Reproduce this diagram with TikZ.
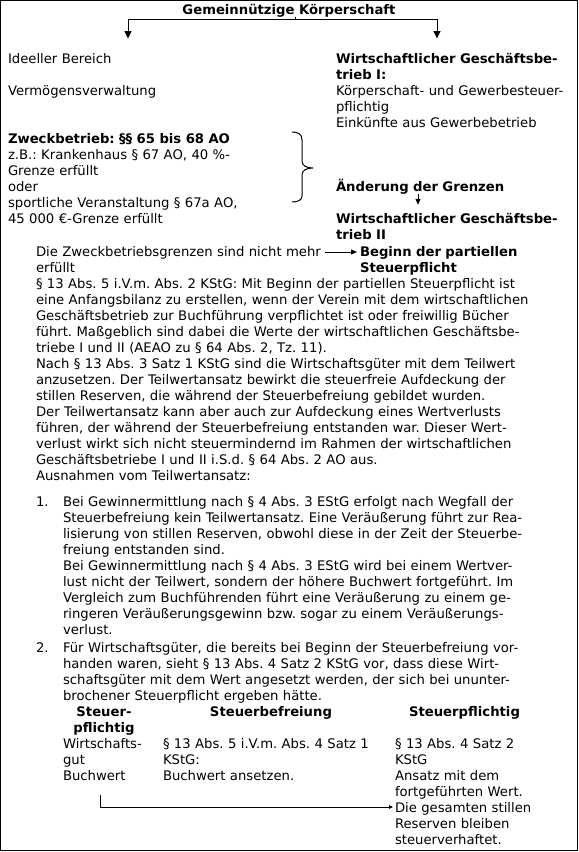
\documentclass[tikz,border=0pt]{standalone}
\usepackage{fontspec}
\setmainfont{DejaVu Sans}
\usetikzlibrary{arrows.meta}
\frenchspacing
\newcommand\dgfont{\fontsize{13.2bp}{16bp}\selectfont\spaceskip=4.7bp\relax}
\begin{document}
\begin{tikzpicture}[x={(1bp,0bp)}, y={(0bp,-1bp)}, line width=1bp,
  every node/.style={inner sep=0pt, outer sep=0pt, font=\dgfont},
  txt/.style={anchor=base west, align=left, text width=#1},
  txt/.default=530bp,
  bld/.style={anchor=base west, align=left, text width=#1, font=\dgfont\bfseries},
  bld/.default=235bp,
  hdr/.style={anchor=base, align=center, text width=#1, font=\dgfont\bfseries},
  hdr/.default=200bp,
  bigtip/.style={-{Triangle[length=7.5bp,width=7bp]}},
  smalltip/.style={-{Triangle[length=6bp,width=5bp]}},
  tinytip/.style={-{Triangle[length=4bp,width=3.5bp]}}]
\useasboundingbox (0,0) rectangle (579,852);
\draw (0.5,0.5) rectangle (577.5,850.5);

% top
\node[hdr=320bp] (title) at (289,14) {Gemeinnützige Körperschaft};
\node[txt=200bp] (ideell) at (8,63) {Ideeller Bereich};
\node[txt=200bp] (verm) at (8,95) {Vermögensverwaltung};
\node[txt=238bp] (wgb1) at (336,63) {\textbf{Wirtschaftlicher Geschäftsbe-}\\\textbf{trieb I:}\\Körperschaft- und Gewerbesteuer-\\pflichtig\\Einkünfte aus Gewerbebetrieb};
\node[txt=280bp] (zweck) at (8,143) {\textbf{Zweckbetrieb: §§ 65 bis 68 AO}\\z.B.: Krankenhaus § 67 AO, 40 \%-\\Grenze erfüllt\\oder\\sportliche Veranstaltung § 67a AO,\\45 000 €-Grenze erfüllt};
\node[bld] (aend) at (336,191) {Änderung der Grenzen};
\node[bld] (wgb2) at (336,223) {Wirtschaftlicher Geschäftsbe-\\trieb II};
\node[txt=320bp] (nicht) at (36,256) {Die Zweckbetriebsgrenzen sind nicht mehr\\erfüllt};
\node[bld=210bp] (beginn) at (360,256) {Beginn der partiellen\\Steuerpflicht};

% body
\node[txt] (body) at (36,288) {§ 13 Abs. 5 i.V.m. Abs. 2 KStG: Mit Beginn der partiellen Steuerpflicht ist\\
eine Anfangsbilanz zu erstellen, wenn der Verein mit dem wirtschaftlichen\\
Geschäftsbetrieb zur Buchführung verpflichtet ist oder freiwillig Bücher\\
führt. Maßgeblich sind dabei die Werte der wirtschaftlichen Geschäftsbe-\\
triebe I und II (AEAO zu § 64 Abs. 2, Tz. 11).\\
Nach § 13 Abs. 3 Satz 1 KStG sind die Wirtschaftsgüter mit dem Teilwert\\
anzusetzen. Der Teilwertansatz bewirkt die steuerfreie Aufdeckung der\\
stillen Reserven, die während der Steuerbefreiung gebildet wurden.\\
Der Teilwertansatz kann aber auch zur Aufdeckung eines Wertverlusts\\
führen, der während der Steuerbefreiung entstanden war. Dieser Wert-\\
verlust wirkt sich nicht steuermindernd im Rahmen der wirtschaftlichen\\
Geschäftsbetriebe I und II i.S.d. § 64 Abs. 2 AO aus.\\
Ausnahmen vom Teilwertansatz:};

% list
\node[txt=20bp] (n1) at (36,506) {1.};
\node[txt=505bp] (item1) at (63,506) {Bei Gewinnermittlung nach § 4 Abs. 3 EStG erfolgt nach Wegfall der\\
Steuerbefreiung kein Teilwertansatz. Eine Veräußerung führt zur Rea-\\
lisierung von stillen Reserven, obwohl diese in der Zeit der Steuerbe-\\
freiung entstanden sind.\\
Bei Gewinnermittlung nach § 4 Abs. 3 EStG wird bei einem Wertver-\\
lust nicht der Teilwert, sondern der höhere Buchwert fortgeführt. Im\\
Vergleich zum Buchführenden führt eine Veräußerung zu einem ge-\\
ringeren Veräußerungsgewinn bzw. sogar zu einem Veräußerungs-\\
verlust.};
\node[txt=20bp] (n2) at (36,652) {2.};
\node[txt=505bp] (item2) at (63,652) {Für Wirtschaftsgüter, die bereits bei Beginn der Steuerbefreiung vor-\\
handen waren, sieht § 13 Abs. 4 Satz 2 KStG vor, dass diese Wirt-\\
schaftsgüter mit dem Wert angesetzt werden, der sich bei ununter-\\
brochener Steuerpflicht ergeben hätte.};

% table
\node[hdr] (h1) at (104,716) {Steuer-\\pflichtig};
\node[hdr] (h2) at (271,716) {Steuerbefreiung};
\node[hdr] (h3) at (464.5,716) {Steuerpflichtig};
\node[txt=95bp] (c1) at (63,748) {Wirtschafts-\\gut\\Buchwert};
\node[txt=230bp] (c2) at (163,748) {§ 13 Abs. 5 i.V.m. Abs. 4 Satz 1\\KStG:\\Buchwert ansetzen.};
\node[txt=178bp] (c3) at (395,748) {§ 13 Abs. 4 Satz 2\\KStG\\Ansatz mit dem\\fortgeführten Wert.\\Die gesamten stillen\\Reserven bleiben\\steuerverhaftet.};

% connectors
\coordinate (j) at (295,19.5);
\coordinate (tl) at (128,38.5);
\coordinate (tr) at (437,38.5);
\draw (title.south -| j) -- (j);
\draw[bigtip] (j) -| (tl);
\draw[bigtip] (j) -| (tr);

\draw (292,132) .. controls (298,132) and (302,134) .. (302,140) -- (302,161)
  .. controls (302,166) and (307,168) .. (313,168)
  .. controls (307,168) and (302,170) .. (302,175) -- (302,196)
  .. controls (302,200) and (298,202) .. (292,202);

\coordinate (ax) at (418,0);
\draw[smalltip, shorten >=8bp] (aend.south -| ax) -- (wgb2.north -| ax);

\coordinate (m0) at (325,252);
\draw[smalltip, shorten >=3bp] (m0) -- (beginn.west |- m0);

\coordinate (b0) at (100,795);
\coordinate (b1) at (393,807);
\draw[tinytip] (b0) |- (b1);
\end{tikzpicture}
\end{document}
